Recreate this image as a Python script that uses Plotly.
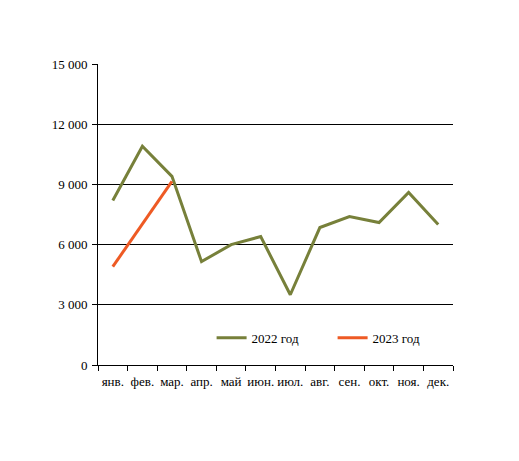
import plotly.graph_objects as go

months = ["янв.", "фев.", "мар.", "апр.", "май", "июн.", "июл.", "авг.",
          "сен.", "окт.", "ноя.", "дек."]
values_2022 = [8200, 10900, 9400, 5150, 6000, 6400, 3500, 6850, 7400, 7100, 8600, 7000]
values_2023 = [4900, 7000, 9150]
y_ticks = [0, 3000, 6000, 9000, 12000, 15000]

fig = go.Figure()
fig.add_trace(go.Scatter(x=months, y=values_2022, mode="lines", name="2022 год",
                         line=dict(color="#77803A", width=3)))
fig.add_trace(go.Scatter(x=months[:len(values_2023)], y=values_2023, mode="lines",
                         name="2023 год", line=dict(color="#EE5A24", width=3)))

# страница имеет отступ 8px, поэтому поля сдвинуты
fig.update_layout(
    width=519, height=461,
    margin=dict(l=90, r=74, t=56, b=104, autoexpand=False),
    paper_bgcolor="white", plot_bgcolor="white",
    separators=", ",
    font=dict(family="Liberation Serif", size=13, color="black"),
    showlegend=True,
    legend=dict(orientation="h", x=0.32, y=0.09, xanchor="left", yanchor="middle",
                bgcolor="rgba(0,0,0,0)", font=dict(size=13),
                entrywidth=76, entrywidthmode="pixels"),
)
fig.update_xaxes(
    type="category", tickson="boundaries", ticks="outside", ticklen=5,
    tickcolor="black", showline=True, linecolor="black", linewidth=1,
    showgrid=False, range=[-0.5, 11.5], tickangle=0, automargin=False,
    ticklabelstandoff=4, tickfont=dict(size=13),
)
fig.update_yaxes(
    range=[0, 15000], tickvals=y_ticks, tickformat=",d", ticks="outside",
    ticklen=5, tickcolor="black", showline=True, linecolor="black", linewidth=1,
    showgrid=True, gridcolor="black", gridwidth=1, zeroline=False,
    automargin=False, ticklabelstandoff=2, tickfont=dict(size=13),
)

fig.write_html("out.html")
